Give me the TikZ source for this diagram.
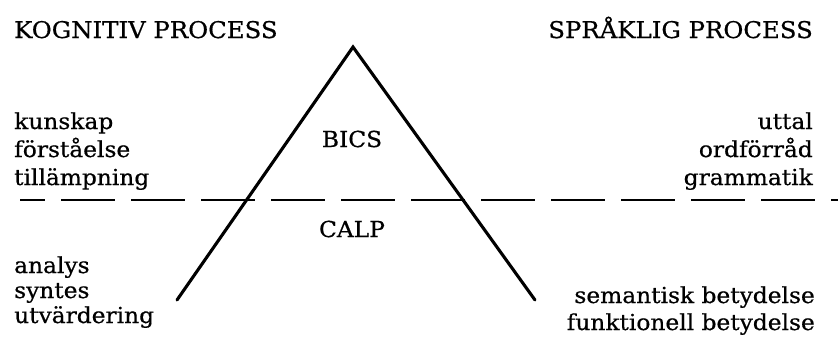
\documentclass[tikz,border=0pt]{standalone}
\usepackage{fontspec}
\setmainfont{DejaVu Serif}[FakeStretch=1.06, FakeBold=0.6]
\begin{document}
\begin{tikzpicture}[x=1pt,y=-1pt,
  lbl/.style={inner sep=0pt, font=\fontsize{22}{26}\selectfont},
  head/.style={inner sep=0pt, font=\fontsize{23}{27}\selectfont},
  side/.style={line width=3.1pt, line cap=round},
  divider/.style={line width=2.4pt, dash pattern=on 54pt off 16pt, dash phase=29pt}]
\useasboundingbox[fill=white] (0,0) rectangle (838,338);
% headings
\node[head, anchor=base west] (kog) at (14,38) {KOGNITIV PROCESS};
\node[head, anchor=base east] (spr) at (813,38) {SPRÅKLIG PROCESS};
% triangle
\coordinate (apex) at (353,47);
\coordinate (lend) at (177,300);
\coordinate (rend) at (535,300);
\draw[side] (lend) -- (apex) -- (rend);
% dashed divider
\coordinate (d1) at (20,200);
\coordinate (d2) at (838,200);
\draw[divider] (d1) -- (d2);
% centre labels
\node[lbl, anchor=base] (bics) at (352,147) {BICS};
\node[lbl, anchor=base] (calp) at (352,237) {CALP};
% left upper
\node[lbl, anchor=base west] (k1) at (14,129) {kunskap};
\node[lbl, anchor=base west] (k2) at (14,157) {förståelse};
\node[lbl, anchor=base west] (k3) at (14,185) {tillämpning};
% right upper
\node[lbl, anchor=base east] (s1) at (813,129) {uttal};
\node[lbl, anchor=base east] (s2) at (813,157) {ordförråd};
\node[lbl, anchor=base east] (s3) at (813,185) {grammatik};
% left lower
\node[lbl, anchor=base west] (a1) at (14,273) {analys};
\node[lbl, anchor=base west] (a2) at (14,298) {syntes};
\node[lbl, anchor=base west] (a3) at (14,323) {utvärdering};
% right lower
\node[lbl, anchor=base east] (b1) at (815,303) {semantisk betydelse};
\node[lbl, anchor=base east] (b2) at (815,330) {funktionell betydelse};
\end{tikzpicture}
\end{document}
